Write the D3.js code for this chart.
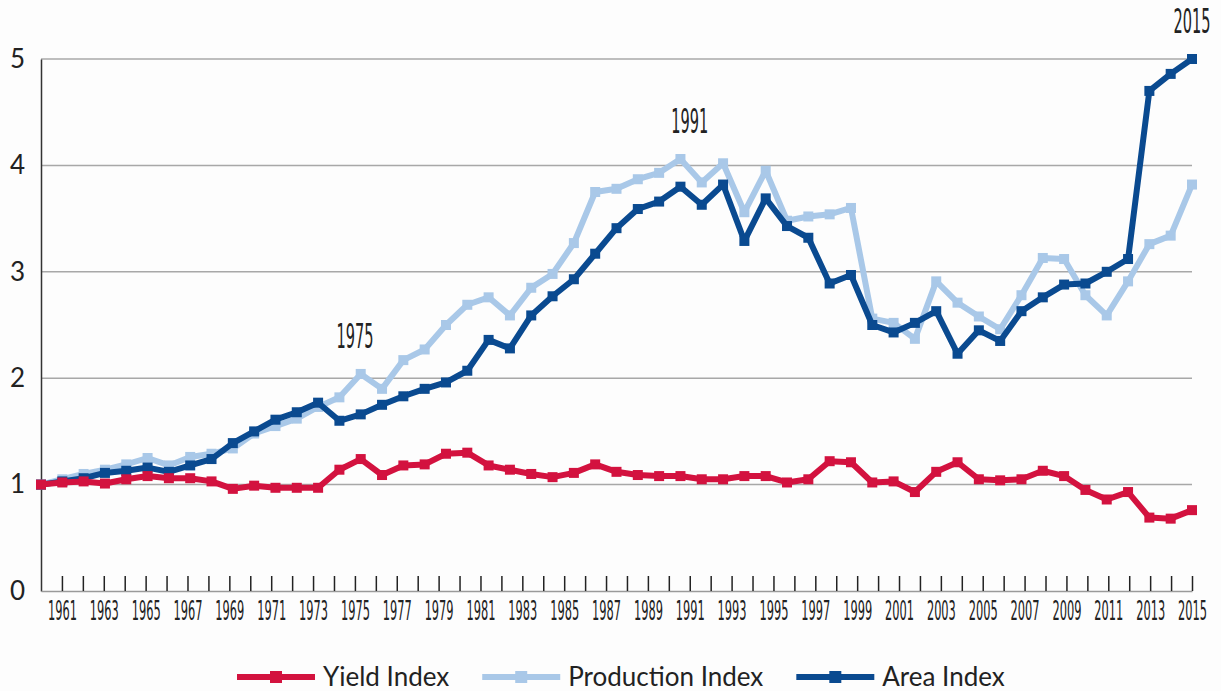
<!DOCTYPE html>
<html>
<head>
<meta charset="utf-8">
<script src="https://cdnjs.cloudflare.com/ajax/libs/d3/7.8.5/d3.min.js"></script>
<style>
  html, body { margin: 0; padding: 0; background: #fdfdfd; }
  svg { display: block; }
</style>
</head>
<body>
<svg id="chart" width="1221" height="691"></svg>
<script>
// data (index, first year = 1)
const years = d3.range(1961, 2016);

const yieldIndex = [1.00, 1.02, 1.03, 1.01, 1.05, 1.08, 1.06, 1.06, 1.03, 0.96,
                    0.99, 0.97, 0.97, 0.97, 1.14, 1.24, 1.09, 1.18, 1.19, 1.29,
                    1.30, 1.18, 1.14, 1.10, 1.07, 1.11, 1.19, 1.12, 1.09, 1.08,
                    1.08, 1.05, 1.05, 1.08, 1.08, 1.02, 1.05, 1.22, 1.21, 1.02,
                    1.03, 0.93, 1.12, 1.21, 1.05, 1.04, 1.05, 1.13, 1.08, 0.95,
                    0.86, 0.93, 0.69, 0.68, 0.76];

const productionIndex = [1.00, 1.05, 1.10, 1.14, 1.19, 1.25, 1.18, 1.26, 1.29, 1.34,
                         1.48, 1.55, 1.62, 1.73, 1.82, 2.04, 1.90, 2.17, 2.27, 2.50,
                         2.69, 2.76, 2.59, 2.85, 2.98, 3.27, 3.75, 3.78, 3.87, 3.93,
                         4.06, 3.84, 4.02, 3.56, 3.95, 3.48, 3.52, 3.54, 3.60, 2.56,
                         2.52, 2.37, 2.91, 2.71, 2.58, 2.46, 2.78, 3.13, 3.12, 2.78,
                         2.59, 2.91, 3.26, 3.34, 3.82];

const areaIndex = [1.00, 1.03, 1.06, 1.11, 1.13, 1.16, 1.12, 1.18, 1.24, 1.39,
                   1.50, 1.61, 1.68, 1.77, 1.60, 1.66, 1.75, 1.83, 1.90, 1.96,
                   2.07, 2.36, 2.28, 2.59, 2.77, 2.93, 3.17, 3.41, 3.59, 3.66,
                   3.80, 3.63, 3.82, 3.29, 3.69, 3.43, 3.32, 2.89, 2.97, 2.50,
                   2.43, 2.52, 2.63, 2.23, 2.45, 2.35, 2.63, 2.76, 2.88, 2.89,
                   3.00, 3.12, 4.70, 4.86, 5.00];

const seriesNames = ["Yield Index", "Production Index", "Area Index"];
const yTicks = [0, 1, 2, 3, 4, 5];
const annotationYears = [1975, 1991, 2015];

// styles
const colors = { "Yield Index": "#d3123f", "Production Index": "#a9c8e8", "Area Index": "#0a4a90" };
const condensedFont = "'Liberation Sans Narrow', 'DejaVu Sans Condensed', sans-serif";
const textFont = "Lato, 'Open Sans', sans-serif";

const series = [
  { name: "Yield Index", values: yieldIndex },
  { name: "Production Index", values: productionIndex },
  { name: "Area Index", values: areaIndex }
];

const svg = d3.select("#chart");
const plotL = 41, plotR = 1192, plotT = 59, plotB = 591;

// data points span the full axis; tick marks are one per year with an extra slot at the start
const x = d3.scalePoint().domain(years).range([plotL, plotR]);
const xTick = d3.scaleLinear().domain([years[0] - 1, years[years.length - 1]]).range([plotL, plotR]);
const y = d3.scaleLinear().domain([0, 5]).range([plotB, plotT]);

// squeeze condensed text to a target width
function squeeze(sample, size, target) {
  const t = svg.append("text").attr("font-family", condensedFont).attr("font-size", size).text(sample);
  const w = t.node().getComputedTextLength();
  t.remove();
  return w > 0 ? target / w : 1;
}

// gridlines
svg.append("g")
  .selectAll("line")
  .data(yTicks.filter(d => d > 0))
  .join("line")
  .attr("x1", plotL).attr("x2", plotR)
  .attr("y1", d => y(d)).attr("y2", d => y(d))
  .attr("stroke", "#a8a8a8")
  .attr("stroke-width", 1.5);

// y axis
const yAxis = svg.append("g")
  .attr("transform", `translate(${plotL},0)`)
  .call(d3.axisLeft(y).tickValues(yTicks).tickSize(0).tickPadding(16).tickFormat(d3.format("d")));
yAxis.select(".domain").attr("stroke", "#333").attr("stroke-width", 1.5);
yAxis.selectAll("text")
  .attr("font-family", textFont)
  .attr("font-size", 26)
  .attr("fill", "#222");

// x axis
const tickSx = squeeze("2003", 27, 29);
const xAxis = svg.append("g")
  .attr("transform", `translate(0,${plotB})`)
  .call(d3.axisBottom(xTick)
    .tickValues(years)
    .tickSize(-15)
    .tickSizeOuter(0)
    .tickPadding(10)
    .tickFormat(d => (d % 2 ? String(d) : "")));
xAxis.select(".domain").attr("stroke", "#9a9a9a").attr("stroke-width", 1.5);
xAxis.selectAll(".tick line").attr("stroke", "#222").attr("stroke-width", 1.5);
xAxis.selectAll("text")
  .attr("font-family", condensedFont)
  .attr("font-size", 27)
  .attr("fill", "#222")
  .attr("transform", `scale(${tickSx},1)`);

// lines + markers
const line = d3.line()
  .x((d, i) => x(years[i]))
  .y(d => y(d));

const drawOrder = ["Production Index", "Area Index", "Yield Index"];
drawOrder.forEach(name => {
  const s = series.find(d => d.name === name);
  const g = svg.append("g");
  g.append("path")
    .datum(s.values)
    .attr("d", line)
    .attr("fill", "none")
    .attr("stroke", colors[name])
    .attr("stroke-width", 6)
    .attr("stroke-linejoin", "round");
  g.selectAll("rect")
    .data(s.values)
    .join("rect")
    .attr("x", (d, i) => x(years[i]) - 5)
    .attr("y", d => y(d) - 5)
    .attr("width", 10)
    .attr("height", 10)
    .attr("fill", colors[name]);
});

// year annotations above the local peak
const annSx = squeeze("1975", 33, 37);
annotationYears.forEach(yr => {
  const i = years.indexOf(yr);
  const near = d3.range(Math.max(0, i - 1), Math.min(years.length, i + 2));
  const peak = d3.max(near, j => Math.max(productionIndex[j], areaIndex[j]));
  svg.append("text")
    .attr("transform", `translate(${xTick(yr)},${y(peak) - 26}) scale(${annSx},1)`)
    .attr("text-anchor", "middle")
    .attr("font-family", condensedFont)
    .attr("font-size", 33)
    .attr("fill", "#222")
    .text(yr);
});

// legend
const legend = svg.append("g").attr("transform", "translate(0,677)");
let cx = 237;
seriesNames.forEach(name => {
  const g = legend.append("g").attr("transform", `translate(${cx},0)`);
  g.append("line")
    .attr("x1", 0).attr("x2", 78)
    .attr("stroke", colors[name])
    .attr("stroke-width", 6);
  g.append("rect")
    .attr("x", 33).attr("y", -6)
    .attr("width", 12).attr("height", 12)
    .attr("fill", colors[name]);
  const t = g.append("text")
    .attr("x", 86)
    .attr("dy", "0.35em")
    .attr("font-family", textFont)
    .attr("font-size", 26)
    .attr("fill", "#222")
    .text(name);
  cx += 86 + t.node().getComputedTextLength() + 33;
});
</script>
</body>
</html>
